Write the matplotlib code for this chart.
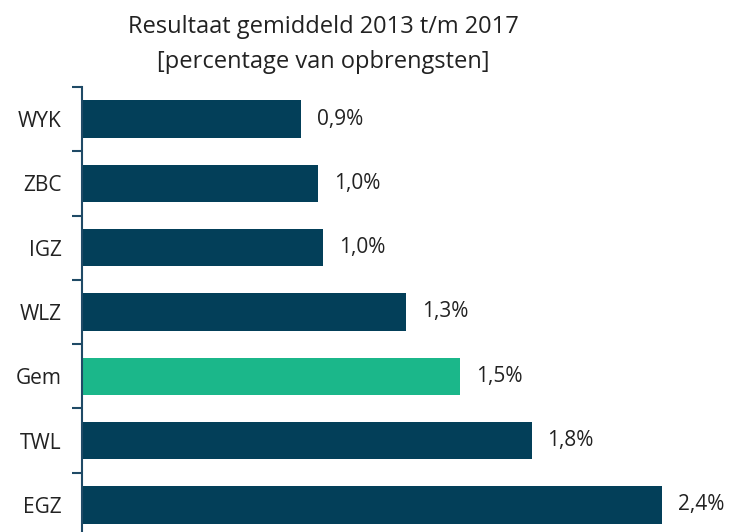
import numpy as np
from matplotlib import pyplot as plt

plt.rcParams['font.family'] = ['Open Sans', 'DejaVu Sans']

categories = ["WYK", "ZBC", "IGZ", "WLZ", "Gem", "TWL", "EGZ"]
values = [0.89, 0.96, 0.98, 1.32, 1.54, 1.83, 2.36]
colors = ["#033f59"] * 4 + ["#1bb78a"] + ["#033f59"] * 2

fig = plt.figure(figsize=(7.3, 5.32), dpi=100)
ax = fig.add_axes([0.1123, -0.0094, 0.875, 0.8459])

y = np.arange(len(categories))
ax.barh(y, values, height=0.58, color=colors)
for yi, v in zip(y, values):
    ax.text(v + 0.065, yi, f"{v:.1f}%".replace(".", ","), va="center", ha="left",
            fontsize=15, color="#222222")

ax.set_ylim(len(categories) - 0.5, -0.5)
ax.set_xlim(0, 2.6)
ax.set_yticks(y)
ax.set_yticklabels(categories, fontsize=15, color="#222222")
ax.set_yticks(np.arange(-0.5, len(categories), 1), minor=True)
ax.tick_params(axis="y", which="major", length=0, pad=14.5)
ax.tick_params(axis="y", which="minor", length=7, width=1.5, color="#1f4a66")
ax.set_xticks([])

for s in ["top", "right", "bottom"]:
    ax.spines[s].set_visible(False)
ax.spines["left"].set_color("#1f4a66")
ax.spines["left"].set_linewidth(1.5)

fig.text(0.443, 0.949, "Resultaat gemiddeld 2013 t/m 2017", ha="center", va="center",
         fontsize=17, color="#222222")
fig.text(0.443, 0.884, "[percentage van opbrengsten]", ha="center", va="center",
         fontsize=17, color="#222222")

plt.savefig("out.png", dpi=100)
